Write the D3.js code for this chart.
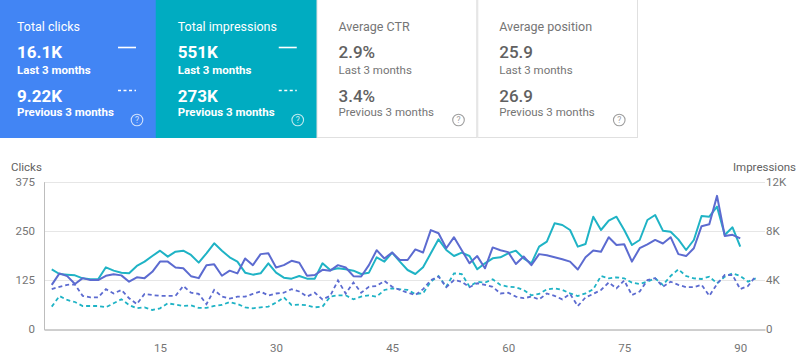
<!DOCTYPE html>
<html>
<head>
<meta charset="utf-8">
<script src="https://cdn.jsdelivr.net/npm/d3@7"></script>
<style>
  html, body { margin: 0; padding: 0; background: #fff; }
  svg { display: block; font-family: Roboto, "Noto Sans", sans-serif; }
</style>
</head>
<body>
<svg id="chart" width="800" height="357"></svg>
<script>
// ---- Data ----
const cardTitles = ["Total clicks", "Total impressions", "Average CTR", "Average position"];
const cardCurrent = ["16.1K", "551K", "2.9%", "25.9"];
const cardPrevious = ["9.22K", "273K", "3.4%", "26.9"];
const periodLabels = ["Last 3 months", "Previous 3 months"];

const clicksTicks = [0, 125, 250, 375];
const impressionsTicks = [0, 4000, 8000, 12000];
const impressionsTickLabels = ["0", "4K", "8K", "12K"];
const dayTicks = [15, 30, 45, 60, 75, 90];

const clicksCurrent = [113,142,135,115,130,125,125,136,140,137,121,132,130,146,172,172,157,155,135,130,
  163,165,136,149,142,180,163,191,193,157,163,174,169,136,138,151,149,163,157,135,
  134,163,201,180,195,176,176,203,195,252,244,206,234,201,168,186,155,208,201,196,
  166,185,163,191,188,183,178,172,152,183,200,197,234,214,216,172,206,216,227,218,
  234,191,186,206,262,267,339,237,240,231];

const impressionsCurrent = [4876,4497,4443,4389,4145,4064,4064,5039,4768,4605,4551,5147,5499,5960,6393,5906,6312,6393,6041,5418,
  6177,6989,6393,5851,5499,4605,4443,4551,5364,4605,4199,4118,4334,4118,4118,5364,4822,4957,4876,4768,
  4497,4605,5851,5499,6231,5499,4822,4497,5039,6177,7314,6447,5960,6231,5960,4876,5364,5770,5851,6177,
  6393,5770,5364,6718,7125,8615,8479,8073,6718,6935,9156,8073,8831,9156,8073,6854,7260,8886,9292,8019,
  7937,7314,6447,7260,9211,9156,9969,7666,8290,6718];

const clicksPrevious = [102,108,113,114,85,81,81,102,91,100,79,64,90,87,85,85,85,110,93,90,
  64,100,83,78,83,83,90,96,86,91,93,102,96,83,93,76,85,124,91,119,
  93,108,110,123,108,100,93,87,102,125,134,107,125,121,107,117,113,108,91,93,
  83,79,83,76,91,85,76,90,59,81,90,100,119,104,124,87,96,125,130,108,
  121,113,107,107,113,85,115,138,138,102,110,135];

const impressionsPrevious = [1842,2709,2384,2221,1896,1896,1896,1788,2113,2438,1978,1707,1788,1571,1707,2113,2005,1896,1950,1734,
  1734,1896,1978,2221,2059,1788,1707,1788,1842,2167,2601,1978,2005,1950,1788,1842,2655,2763,2763,2438,
  2655,2763,2655,3197,3332,3251,3197,2872,2926,3874,4334,3468,4551,4497,3468,3874,3793,4064,3603,3468,
  3413,3197,2763,2872,3251,3332,3197,2926,2709,2926,3251,4334,4145,4226,4145,3793,3684,3874,4145,3603,
  4334,4876,4334,4145,4091,4280,3738,4280,4551,4334,3874,4145];

// ---- Styles ----
const blue = "#5c6bd0";
const teal = "#1fb3c5";
const cardColors = ["#4285f4", "#00acc1", "#ffffff", "#ffffff"];

const svg = d3.select("#chart");

// ---- Cards ----
const cardX = d3.scaleLinear().domain([0, 4]).range([-5, 638]);
const cardH = 138;
const cards = svg.selectAll("g.card").data(cardTitles).join("g")
  .attr("class", "card")
  .attr("transform", (d, i) => `translate(${cardX(i)},0)`);
const cw = cardX(1) - cardX(0);

cards.append("rect")
  .attr("x", (d, i) => i < 2 ? 0 : 0.5)
  .attr("y", (d, i) => i < 2 ? 0 : -1)
  .attr("width", (d, i) => i < 2 ? cw + 0.5 : cw - 1)
  .attr("height", (d, i) => i < 2 ? cardH : cardH + 0.5)
  .attr("fill", (d, i) => cardColors[i])
  .attr("stroke", (d, i) => i < 2 ? "none" : "#e0e0e0")
  .attr("stroke-width", 1);

const titleColor = i => i < 2 ? "#ffffff" : "#757575";
const valueColor = i => i < 2 ? "#ffffff" : "#616161";
const tx = 22;

cards.append("text").text(d => d)
  .attr("x", tx).attr("y", 31)
  .attr("font-size", 12.5).attr("fill", (d, i) => titleColor(i));
cards.append("text").text((d, i) => cardCurrent[i])
  .attr("x", tx).attr("y", 58)
  .attr("font-size", 17).attr("font-weight", (d, i) => i < 2 ? 700 : 500)
  .attr("fill", (d, i) => valueColor(i));
cards.append("text").text(periodLabels[0])
  .attr("x", tx).attr("y", 74)
  .attr("font-size", 11.5).attr("font-weight", (d, i) => i < 2 ? 700 : 400)
  .attr("fill", (d, i) => titleColor(i));
cards.append("text").text((d, i) => cardPrevious[i])
  .attr("x", tx).attr("y", 102)
  .attr("font-size", 17).attr("font-weight", (d, i) => i < 2 ? 700 : 500)
  .attr("fill", (d, i) => valueColor(i));
cards.append("text").text(periodLabels[1])
  .attr("x", tx).attr("y", 116)
  .attr("font-size", 11.5).attr("font-weight", (d, i) => i < 2 ? 700 : 400)
  .attr("fill", (d, i) => titleColor(i));

// legend marks on the two coloured cards
cards.filter((d, i) => i < 2).append("line")
  .attr("x1", 123).attr("x2", 141).attr("y1", 47.5).attr("y2", 47.5)
  .attr("stroke", "#fff").attr("stroke-width", 1.6);
cards.filter((d, i) => i < 2).append("line")
  .attr("x1", 123).attr("x2", 141).attr("y1", 90.5).attr("y2", 90.5)
  .attr("stroke", "#fff").attr("stroke-width", 1.6).attr("stroke-dasharray", "3,2.5");

// help icons
const help = cards.append("g").attr("transform", "translate(142,120)");
help.append("circle").attr("r", 5.8).attr("fill", "none")
  .attr("stroke", (d, i) => i < 2 ? "rgba(255,255,255,0.75)" : "#9e9e9e").attr("stroke-width", 1.1);
help.append("text").text("?").attr("text-anchor", "middle").attr("y", 3.3)
  .attr("font-size", 8.5).attr("fill", (d, i) => i < 2 ? "rgba(255,255,255,0.8)" : "#9e9e9e");

// ---- Chart ----
const x = d3.scaleLinear().domain([0, 93.2]).range([44, 765]);
const yC = d3.scaleLinear().domain([0, 375]).range([329.3, 181.7]);
const yI = d3.scaleLinear().domain([0, 12000]).range([329.3, 181.7]);

// gridlines
svg.append("g").selectAll("line").data(clicksTicks.filter(t => t > 0)).join("line")
  .attr("x1", x(0)).attr("x2", x(93.2))
  .attr("y1", d => Math.round(yC(d)) + 0.5).attr("y2", d => Math.round(yC(d)) + 0.5)
  .attr("stroke", "#e6e6e6").attr("stroke-width", 1);

// left axis
const leftAxis = svg.append("g").attr("transform", `translate(${x(0)},0)`)
  .call(d3.axisLeft(yC).tickValues(clicksTicks).tickSize(0).tickPadding(9));
leftAxis.select(".domain").attr("stroke", "#bdbdbd");
leftAxis.selectAll("text").attr("font-size", 11.5).attr("fill", "#757575").attr("font-family", "Roboto, sans-serif");

// right axis
const rightAxis = svg.append("g").attr("transform", `translate(${x(93.2)},0)`)
  .call(d3.axisRight(yI).tickValues(impressionsTicks)
    .tickFormat((d, i) => impressionsTickLabels[i]).tickSize(0).tickPadding(1));
rightAxis.select(".domain").remove();
rightAxis.selectAll("text").attr("font-size", 11.5).attr("fill", "#757575").attr("font-family", "Roboto, sans-serif");

// bottom axis
const bottomAxis = svg.append("g").attr("transform", `translate(0,${Math.round(yC(0)) + 0.5})`)
  .call(d3.axisBottom(x).tickValues(dayTicks).tickSize(0).tickPadding(14));
bottomAxis.select(".domain").attr("stroke", "#9e9e9e");
bottomAxis.selectAll("text").attr("font-size", 11.5).attr("fill", "#757575").attr("font-family", "Roboto, sans-serif");

// axis titles
svg.append("text").text("Clicks").attr("x", 11).attr("y", 171)
  .attr("font-size", 11.5).attr("fill", "#616161");
svg.append("text").text("Impressions").attr("x", 796).attr("y", 171)
  .attr("text-anchor", "end").attr("font-size", 11.5).attr("fill", "#616161");

// lines
const lineC = d3.line().x((d, i) => x(i + 1)).y(d => yC(d));
const lineI = d3.line().x((d, i) => x(i + 1)).y(d => yI(d));

svg.append("path").datum(impressionsPrevious).attr("d", lineI)
  .attr("fill", "none").attr("stroke", teal).attr("stroke-width", 1.8)
  .attr("stroke-dasharray", "4,3");
svg.append("path").datum(clicksPrevious).attr("d", lineC)
  .attr("fill", "none").attr("stroke", blue).attr("stroke-width", 1.8)
  .attr("stroke-dasharray", "4,3");
svg.append("path").datum(impressionsCurrent).attr("d", lineI)
  .attr("fill", "none").attr("stroke", teal).attr("stroke-width", 2)
  .attr("stroke-linejoin", "round");
svg.append("path").datum(clicksCurrent).attr("d", lineC)
  .attr("fill", "none").attr("stroke", blue).attr("stroke-width", 2)
  .attr("stroke-linejoin", "round");
</script>
</body>
</html>
